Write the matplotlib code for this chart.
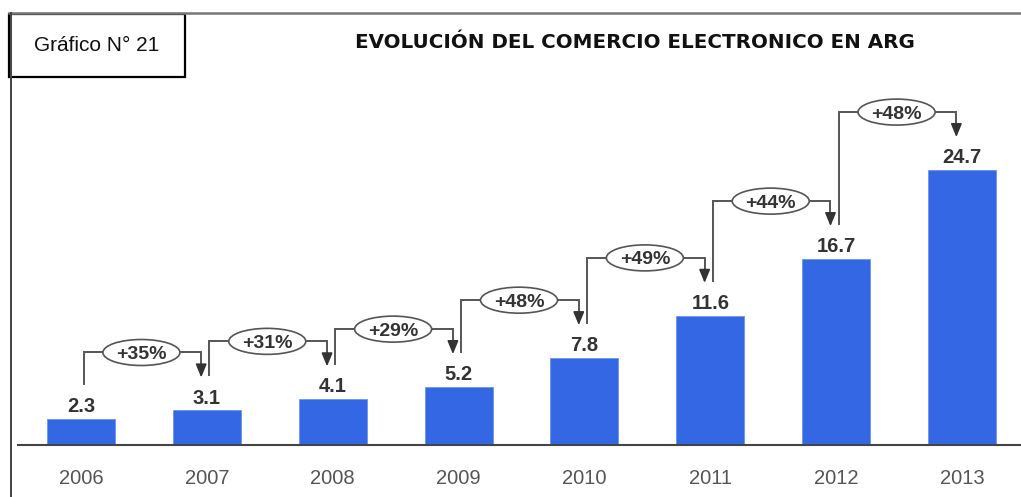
import matplotlib
matplotlib.use("Agg")
import matplotlib.pyplot as plt
from matplotlib.patches import Ellipse, Rectangle
from matplotlib.lines import Line2D

years = ["2006", "2007", "2008", "2009", "2010", "2011", "2012", "2013"]
values = [2.3, 3.1, 4.1, 5.2, 7.8, 11.6, 16.7, 24.7]
growth = ["+35%", "+31%", "+29%", "+48%", "+49%", "+44%", "+48%"]
title = "EVOLUCIÓN DEL COMERCIO ELECTRONICO EN ARG"
box_label = "Gráfico N° 21"

W, H = 1021, 497
fig = plt.figure(figsize=(W / 100, H / 100), dpi=100)

def fx(px):
    return px / W

def fy(py):
    return 1 - py / H

# axes: left at px 18, right at 1021, baseline at px 445, top at px 60
ax = fig.add_axes([fx(18), fy(445), fx(1021 - 18), (445 - 60) / H])
unit_x = 125.86
ax.set_xlim((18 - 81) / unit_x, (1021 - 81) / unit_x)
ppu = 11.13
ax.set_ylim(0, (445 - 60) / ppu)

bar_color = "#3367E3"
xs = list(range(len(years)))
ax.bar(xs, values, width=0.54, color=bar_color, edgecolor="#6d93ee", linewidth=0.6, zorder=2)

for x, v in zip(xs, values):
    ax.annotate(f"{v:.1f}", (x, v), xytext=(0, 5), textcoords="offset points",
                ha="center", va="baseline", fontsize=14.5, fontweight="bold",
                color="#333333", family="Liberation Sans")

conn_color = "#555555"
for i, g in enumerate(growth):
    v0, v1 = values[i], values[i + 1]
    x0, x1 = xs[i] + 0.02, xs[i + 1] - 0.045
    start = v0 + 35 / ppu
    level = v1 + 58 / ppu
    tip = v1 + 33 / ppu
    ax.plot([x0, x0, x1, x1], [start, level, level, tip + 0.8], color=conn_color,
            lw=1.4, zorder=3, solid_joinstyle="miter")
    ax.annotate("", xy=(x1, tip), xytext=(x1, tip + 1.2),
                arrowprops=dict(arrowstyle="-|>,head_length=0.8,head_width=0.33",
                                color="#333333", lw=1.2, shrinkA=0, shrinkB=0), zorder=4)
    xm = (xs[i] + xs[i + 1]) / 2 - 0.02
    ax.add_patch(Ellipse((xm, level), width=77 / unit_x, height=26 / ppu,
                         facecolor="white", edgecolor="#555555", lw=1.2, zorder=4))
    ax.text(xm, level, g, ha="center", va="center_baseline", fontsize=14,
            fontweight="bold", color="#333333", family="Liberation Sans", zorder=5)

ax.set_xticks(xs)
ax.set_xticklabels(years, fontsize=14.5, color="#555555", family="Liberation Sans")
ax.tick_params(axis="x", length=0, pad=17)
ax.set_yticks([])
for s in ["top", "right", "left"]:
    ax.spines[s].set_visible(False)
ax.spines["bottom"].set_color("#444444")
ax.spines["bottom"].set_linewidth(1.5)
ax.patch.set_alpha(0)

# frame lines
fig.add_artist(Line2D([fx(9), fx(1021)], [fy(13), fy(13)], color="#777777", lw=1.8))
fig.add_artist(Line2D([fx(10.5), fx(10.5)], [fy(13), fy(497)], color="#444444", lw=1.4))
fig.add_artist(Rectangle((fx(9), fy(77)), fx(185 - 9), (77 - 14) / H, facecolor="white",
                         edgecolor="black", lw=1.6, transform=fig.transFigure))
fig.text(fx(97), fy(46), box_label, ha="center", va="center", fontsize=15,
         family="Liberation Sans", color="#111111")
fig.text(fx(635), fy(42), title, ha="center", va="center", fontsize=14.3,
         fontweight="bold", family="DejaVu Sans", color="#111111")

fig.savefig("out.png", dpi=100)
